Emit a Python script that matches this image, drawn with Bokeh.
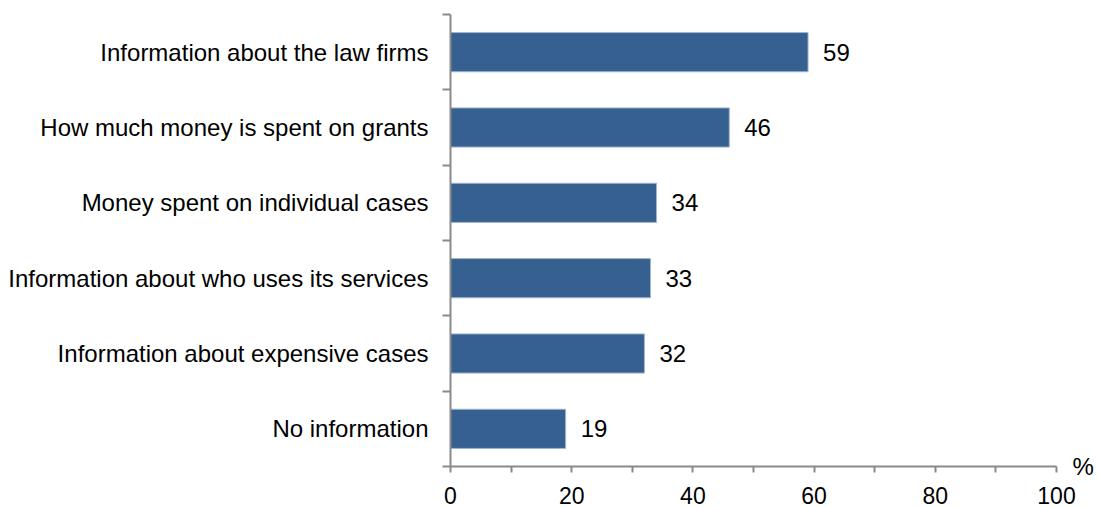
from bokeh.plotting import figure
from bokeh.models import Range1d, FixedTicker, ColumnDataSource, LinearAxis
from bokeh.core.properties import value
from bokeh.embed import file_html
from bokeh.resources import INLINE

categories = [
    "Information about the law firms",
    "How much money is spent on grants",
    "Money spent on individual cases",
    "Information about who uses its services",
    "Information about expensive cases",
    "No information",
]
values = [59, 46, 34, 33, 32, 19]
x_ticks = [0, 20, 40, 60, 80, 100]
x_minor_ticks = [10, 30, 50, 70, 90]
unit_label = "%"

n = len(categories)
ypos = [n - i for i in range(n)]
src = ColumnDataSource(dict(y=ypos, v=values, lbl=[str(v) for v in values], cat=categories))

FONT = "Liberation Sans"
FS = "24px"
FS_TICK = "23px"
p = figure(width=1096, height=507, output_backend="svg", toolbar_location=None,
           x_range=Range1d(0, 100), y_range=Range1d(0.5, n + 0.5),
           min_border_left=450, min_border_right=37, min_border_top=14, min_border_bottom=41)
p.outline_line_color = None
p.grid.grid_line_color = None

p.hbar(y="y", right="v", left=0, height=0.52, source=src,
       fill_color="#36608f", line_color="#9fb5d0", line_width=1)
p.text(x="v", y="y", text="lbl", source=src, x_offset=15,
       text_align="left", text_baseline="middle", text_font=value(FONT),
       text_font_size=FS, text_color="#000000")

AX = "#8a8a8a"
xa = p.xaxis[0]
xa.ticker = FixedTicker(ticks=x_ticks, minor_ticks=x_minor_ticks)
xa.axis_line_color = AX
xa.axis_line_width = 2
xa.major_tick_line_color = AX
xa.major_tick_line_width = 2
xa.minor_tick_line_color = AX
xa.minor_tick_line_width = 2
xa.major_tick_in = 0
xa.major_tick_out = 6
xa.minor_tick_in = 0
xa.minor_tick_out = 6
xa.major_label_standoff = 14
xa.major_label_text_font = FONT
xa.major_label_text_font_size = FS_TICK
xa.major_label_text_color = "#000000"

ya = p.yaxis[0]
ya.ticker = FixedTicker(ticks=ypos, minor_ticks=[i + 0.5 for i in range(n + 1)])
ya.major_label_overrides = {y: c for y, c in zip(ypos, categories)}
ya.axis_line_color = AX
ya.axis_line_width = 2
ya.major_tick_line_color = None
ya.major_tick_in = 0
ya.major_tick_out = 0
ya.minor_tick_line_color = AX
ya.minor_tick_line_width = 2
ya.minor_tick_in = 0
ya.minor_tick_out = 8
ya.major_label_standoff = 14
ya.major_label_text_font = FONT
ya.major_label_text_font_size = FS
ya.major_label_text_color = "#000000"

# unit label at the right end of the x axis
ra = LinearAxis(ticker=FixedTicker(ticks=[0.5]), major_label_overrides={0.5: unit_label})
ra.axis_line_color = None
ra.major_tick_line_color = None
ra.minor_tick_line_color = None
ra.major_tick_out = 0
ra.major_tick_in = 0
ra.major_label_standoff = 16
ra.major_label_text_font = FONT
ra.major_label_text_font_size = FS
ra.major_label_text_color = "#000000"
p.add_layout(ra, "right")

open("out.html", "w").write(file_html(p, INLINE))
